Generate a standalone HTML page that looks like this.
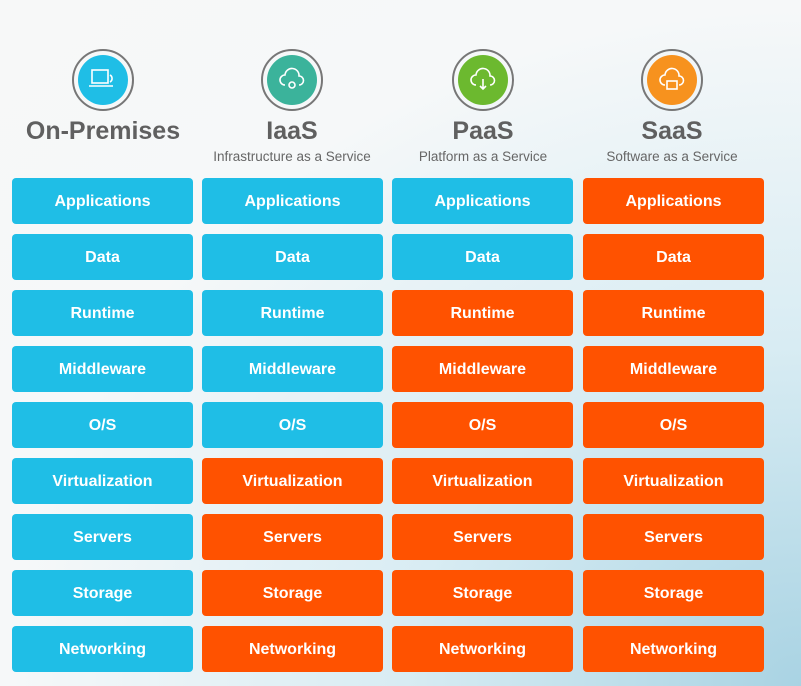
<!DOCTYPE html>
<html><head><style>
body{margin:0;width:801px;height:686px;overflow:hidden;font-family:"Liberation Sans",sans-serif;
background:radial-gradient(ellipse at 100% 100%,#a9d3e3 0%,#d8ecf3 35%,#f6f8f9 70%,#f7f8f8 100%);position:relative}
.b{position:absolute;width:181px;height:46px;border-radius:4px;color:#fff;font-weight:bold;font-size:16px;display:flex;align-items:center;justify-content:center;padding-top:2px;box-sizing:border-box}
.u{background:#1fbee6}.o{background:#ff5200}
.t{position:absolute;width:190px;text-align:center;color:#606060;font-weight:bold;font-size:25px;top:117px}
.s{position:absolute;width:190px;text-align:center;color:#666;font-size:13.5px;top:149px}
.c{position:absolute;width:58px;height:58px;border-radius:50%;border:2px solid #777;top:49px;display:flex;align-items:center;justify-content:center}
.c>div{width:50px;height:50px;border-radius:50%;display:flex;align-items:center;justify-content:center}
</style></head><body>
<div class="c" style="left:72px"><div style="background:#1fbee6"><svg width="30" height="26" viewBox="0 0 30 26" fill="none" stroke="#fff" stroke-width="1.6"><rect x="4" y="3" width="16" height="13"/><path d="M1 19h24"/><path d="M22 8a4 4 0 0 1 0 7"/></svg></div></div>
<div class="c" style="left:261px"><div style="background:#3bb39b"><svg width="30" height="26" viewBox="0 0 30 26" fill="none" stroke="#fff" stroke-width="1.6"><path d="M8 18a5 5 0 0 1 0-10a7 7 0 0 1 14 1a4.5 4.5 0 0 1 0 9"/><circle cx="15" cy="18" r="3"/></svg></div></div>
<div class="c" style="left:452px"><div style="background:#6cb92f"><svg width="30" height="26" viewBox="0 0 30 26" fill="none" stroke="#fff" stroke-width="1.6"><path d="M8 18a5 5 0 0 1 0-10a7 7 0 0 1 14 1a4.5 4.5 0 0 1 0 9"/><path d="M15 12v10M12 19l3 3 3-3"/></svg></div></div>
<div class="c" style="left:641px"><div style="background:#f7921e"><svg width="30" height="26" viewBox="0 0 30 26" fill="none" stroke="#fff" stroke-width="1.6"><path d="M8 18a5 5 0 0 1 0-10a7 7 0 0 1 14 1a4.5 4.5 0 0 1 0 9"/><rect x="10" y="14" width="10" height="8"/></svg></div></div>
<div class="t" style="left:8px">On-Premises</div>
<div class="t" style="left:197px">IaaS</div>
<div class="t" style="left:388px">PaaS</div>
<div class="t" style="left:577px">SaaS</div>
<div class="s" style="left:197px">Infrastructure as a Service</div>
<div class="s" style="left:388px">Platform as a Service</div>
<div class="s" style="left:577px">Software as a Service</div>
<div id="g"></div>
<script>
var rows=["Applications","Data","Runtime","Middleware","O/S","Virtualization","Servers","Storage","Networking"];
var xs=[12,202,392,583],blue=[9,5,2,0],h="";
for(var c=0;c<4;c++)for(var r=0;r<9;r++){
h+='<div class="b '+(r<blue[c]?'u':'o')+'" style="left:'+xs[c]+'px;top:'+(178+r*56)+'px">'+rows[r]+'</div>';}
document.getElementById("g").innerHTML=h;
</script>
</body></html>
